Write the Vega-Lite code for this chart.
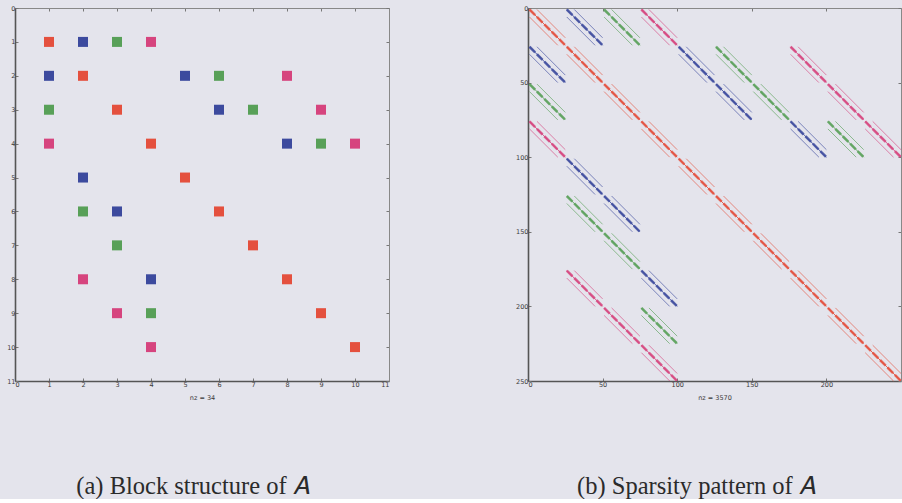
{
  "$schema": "https://vega.github.io/schema/vega-lite/v6.json",
  "background": "#e4e4ec",
  "padding": {"left": 6, "top": 5, "right": 0, "bottom": 0},
  "bounds": "flush",
  "spacing": 139,
  "datasets": {
    "cells": [
      {"r": 1, "c": 1, "k": "red"}, {"r": 1, "c": 2, "k": "blue"}, {"r": 1, "c": 3, "k": "green"}, {"r": 1, "c": 4, "k": "magenta"},
      {"r": 2, "c": 1, "k": "blue"}, {"r": 2, "c": 2, "k": "red"}, {"r": 2, "c": 5, "k": "blue"}, {"r": 2, "c": 6, "k": "green"}, {"r": 2, "c": 8, "k": "magenta"},
      {"r": 3, "c": 1, "k": "green"}, {"r": 3, "c": 3, "k": "red"}, {"r": 3, "c": 6, "k": "blue"}, {"r": 3, "c": 7, "k": "green"}, {"r": 3, "c": 9, "k": "magenta"},
      {"r": 4, "c": 1, "k": "magenta"}, {"r": 4, "c": 4, "k": "red"}, {"r": 4, "c": 8, "k": "blue"}, {"r": 4, "c": 9, "k": "green"}, {"r": 4, "c": 10, "k": "magenta"},
      {"r": 5, "c": 2, "k": "blue"}, {"r": 5, "c": 5, "k": "red"},
      {"r": 6, "c": 2, "k": "green"}, {"r": 6, "c": 3, "k": "blue"}, {"r": 6, "c": 6, "k": "red"},
      {"r": 7, "c": 3, "k": "green"}, {"r": 7, "c": 7, "k": "red"},
      {"r": 8, "c": 2, "k": "magenta"}, {"r": 8, "c": 4, "k": "blue"}, {"r": 8, "c": 8, "k": "red"},
      {"r": 9, "c": 3, "k": "magenta"}, {"r": 9, "c": 4, "k": "green"}, {"r": 9, "c": 9, "k": "red"},
      {"r": 10, "c": 4, "k": "magenta"}, {"r": 10, "c": 10, "k": "red"}
    ],
    "blocks": [
      {"x": 1, "x2": 25, "y": 1, "y2": 25, "k": "red"},
      {"x": 26, "x2": 50, "y": 1, "y2": 25, "k": "blue"},
      {"x": 51, "x2": 75, "y": 1, "y2": 25, "k": "green"},
      {"x": 76, "x2": 100, "y": 1, "y2": 25, "k": "magenta"},
      {"x": 1, "x2": 25, "y": 26, "y2": 50, "k": "blue"},
      {"x": 26, "x2": 50, "y": 26, "y2": 50, "k": "red"},
      {"x": 101, "x2": 125, "y": 26, "y2": 50, "k": "blue"},
      {"x": 126, "x2": 150, "y": 26, "y2": 50, "k": "green"},
      {"x": 176, "x2": 200, "y": 26, "y2": 50, "k": "magenta"},
      {"x": 1, "x2": 25, "y": 51, "y2": 75, "k": "green"},
      {"x": 51, "x2": 75, "y": 51, "y2": 75, "k": "red"},
      {"x": 126, "x2": 150, "y": 51, "y2": 75, "k": "blue"},
      {"x": 151, "x2": 175, "y": 51, "y2": 75, "k": "green"},
      {"x": 201, "x2": 225, "y": 51, "y2": 75, "k": "magenta"},
      {"x": 1, "x2": 25, "y": 76, "y2": 100, "k": "magenta"},
      {"x": 76, "x2": 100, "y": 76, "y2": 100, "k": "red"},
      {"x": 176, "x2": 200, "y": 76, "y2": 100, "k": "blue"},
      {"x": 201, "x2": 225, "y": 76, "y2": 100, "k": "green"},
      {"x": 226, "x2": 250, "y": 76, "y2": 100, "k": "magenta"},
      {"x": 26, "x2": 50, "y": 101, "y2": 125, "k": "blue"},
      {"x": 101, "x2": 125, "y": 101, "y2": 125, "k": "red"},
      {"x": 26, "x2": 50, "y": 126, "y2": 150, "k": "green"},
      {"x": 51, "x2": 75, "y": 126, "y2": 150, "k": "blue"},
      {"x": 126, "x2": 150, "y": 126, "y2": 150, "k": "red"},
      {"x": 51, "x2": 75, "y": 151, "y2": 175, "k": "green"},
      {"x": 151, "x2": 175, "y": 151, "y2": 175, "k": "red"},
      {"x": 26, "x2": 50, "y": 176, "y2": 200, "k": "magenta"},
      {"x": 76, "x2": 100, "y": 176, "y2": 200, "k": "blue"},
      {"x": 176, "x2": 200, "y": 176, "y2": 200, "k": "red"},
      {"x": 51, "x2": 75, "y": 201, "y2": 225, "k": "magenta"},
      {"x": 76, "x2": 100, "y": 201, "y2": 225, "k": "green"},
      {"x": 201, "x2": 225, "y": 201, "y2": 225, "k": "red"},
      {"x": 76, "x2": 100, "y": 226, "y2": 250, "k": "magenta"},
      {"x": 226, "x2": 250, "y": 226, "y2": 250, "k": "red"}
    ]
  },
  "config": {
    "view": {"stroke": null},
    "axis": {
      "grid": false,
      "labelFont": "DejaVu Sans",
      "labelFontSize": 6.5,
      "labelColor": "#3a3a3a",
      "labelPadding": 3,
      "titleFont": "DejaVu Sans",
      "titleFontSize": 6.5,
      "titleFontWeight": "normal",
      "titleColor": "#3a3a3a",
      "titlePadding": 7,
      "domainColor": "#555555",
      "domainWidth": 1.6,
      "tickColor": "#777777",
      "tickSize": -3,
      "labelAngle": 0
    },
    "title": {
      "font": "Liberation Serif",
      "fontSize": 24.5,
      "fontWeight": "normal",
      "color": "#2b2b2b",
      "orient": "bottom",
      "anchor": "middle"
    }
  },
  "hconcat": [
    {
      "width": 374,
      "height": 373,
      "title": {"text": "(a) Block structure of 𝐴", "offset": 74, "orient": "bottom", "dx": -9},
      "data": {"name": "cells"},
      "layer": [
        {
          "mark": {"type": "square", "size": 100, "opacity": 1},
          "encoding": {
            "x": {"field": "c", "type": "quantitative", "scale": {"domain": [0, 11], "nice": false},
                  "axis": {"orient": "bottom", "values": [0,1,2,3,4,5,6,7,8,9,10,11], "title": "nz = 34"}},
            "y": {"field": "r", "type": "quantitative", "scale": {"domain": [0, 11], "nice": false, "reverse": true},
                  "axis": {"orient": "left", "values": [0,1,2,3,4,5,6,7,8,9,10,11], "title": null}},
            "color": {"field": "k", "type": "nominal",
                      "scale": {"domain": ["red", "blue", "green", "magenta"], "range": ["#e4503e", "#3c4a9e", "#58a058", "#d6447e"]},
                      "legend": null}
          }
        },
        {
          "mark": {"type": "square", "size": 100, "opacity": 0},
          "encoding": {
            "x": {"field": "c", "type": "quantitative",
                  "axis": {"orient": "top", "values": [0,1,2,3,4,5,6,7,8,9,10,11], "labels": false, "title": null, "domainColor": "#888888", "domainWidth": 1}},
            "y": {"field": "r", "type": "quantitative",
                  "axis": {"orient": "right", "values": [0,1,2,3,4,5,6,7,8,9,10,11], "labels": false, "title": null, "domainColor": "#888888", "domainWidth": 1}}
          }
        }
      ],
      "resolve": {"axis": {"x": "independent", "y": "independent"}}
    },
    {
      "width": 373,
      "height": 373,
      "title": {"text": "(b) Sparsity pattern of 𝐴", "offset": 74, "orient": "bottom", "dx": -18},
      "data": {"name": "blocks"},
      "layer": [
        {
          "mark": {"type": "rule", "strokeWidth": 0.8, "opacity": 0.8, "xOffset": 7.5, "y2Offset": -7.5},
          "encoding": {
            "x": {"field": "x", "type": "quantitative", "scale": {"domain": [0, 250], "nice": false},
                  "axis": {"orient": "bottom", "values": [0, 50, 100, 150, 200], "title": "nz = 3570"}},
            "x2": {"field": "x2"},
            "y": {"field": "y", "type": "quantitative", "scale": {"domain": [0, 250], "nice": false, "reverse": true},
                  "axis": {"orient": "left", "values": [0, 50, 100, 150, 200, 250], "title": null}},
            "y2": {"field": "y2"},
            "color": {"field": "k", "type": "nominal",
                      "scale": {"domain": ["red", "blue", "green", "magenta"], "range": ["#e4503e", "#3c4a9e", "#58a058", "#d6447e"]},
                      "legend": null}
          }
        },
        {
          "mark": {"type": "rule", "strokeWidth": 0.8, "opacity": 0.8, "yOffset": 7.5, "x2Offset": -7.5},
          "encoding": {
            "x": {"field": "x", "type": "quantitative",
                  "axis": {"orient": "top", "values": [0, 50, 100, 150, 200, 250], "labels": false, "title": null, "domainColor": "#888888", "domainWidth": 1}},
            "x2": {"field": "x2"},
            "y": {"field": "y", "type": "quantitative",
                  "axis": {"orient": "right", "values": [0, 50, 100, 150, 200, 250], "labels": false, "title": null, "domainColor": "#888888", "domainWidth": 1}},
            "y2": {"field": "y2"},
            "color": {"field": "k", "type": "nominal", "legend": null}
          }
        },
        {
          "mark": {"type": "rule", "strokeWidth": 1, "opacity": 0.9},
          "encoding": {
            "x": {"field": "x", "type": "quantitative", "axis": null},
            "x2": {"field": "x2"},
            "y": {"field": "y", "type": "quantitative", "axis": null},
            "y2": {"field": "y2"},
            "color": {"field": "k", "type": "nominal", "legend": null}
          }
        },
        {
          "mark": {"type": "rule", "strokeWidth": 2.6, "opacity": 0.85, "strokeDash": [8, 2.5]},
          "encoding": {
            "x": {"field": "x", "type": "quantitative", "axis": null},
            "x2": {"field": "x2"},
            "y": {"field": "y", "type": "quantitative", "axis": null},
            "y2": {"field": "y2"},
            "color": {"field": "k", "type": "nominal", "legend": null}
          }
        }
      ],
      "resolve": {"axis": {"x": "independent", "y": "independent"}}
    }
  ]
}
